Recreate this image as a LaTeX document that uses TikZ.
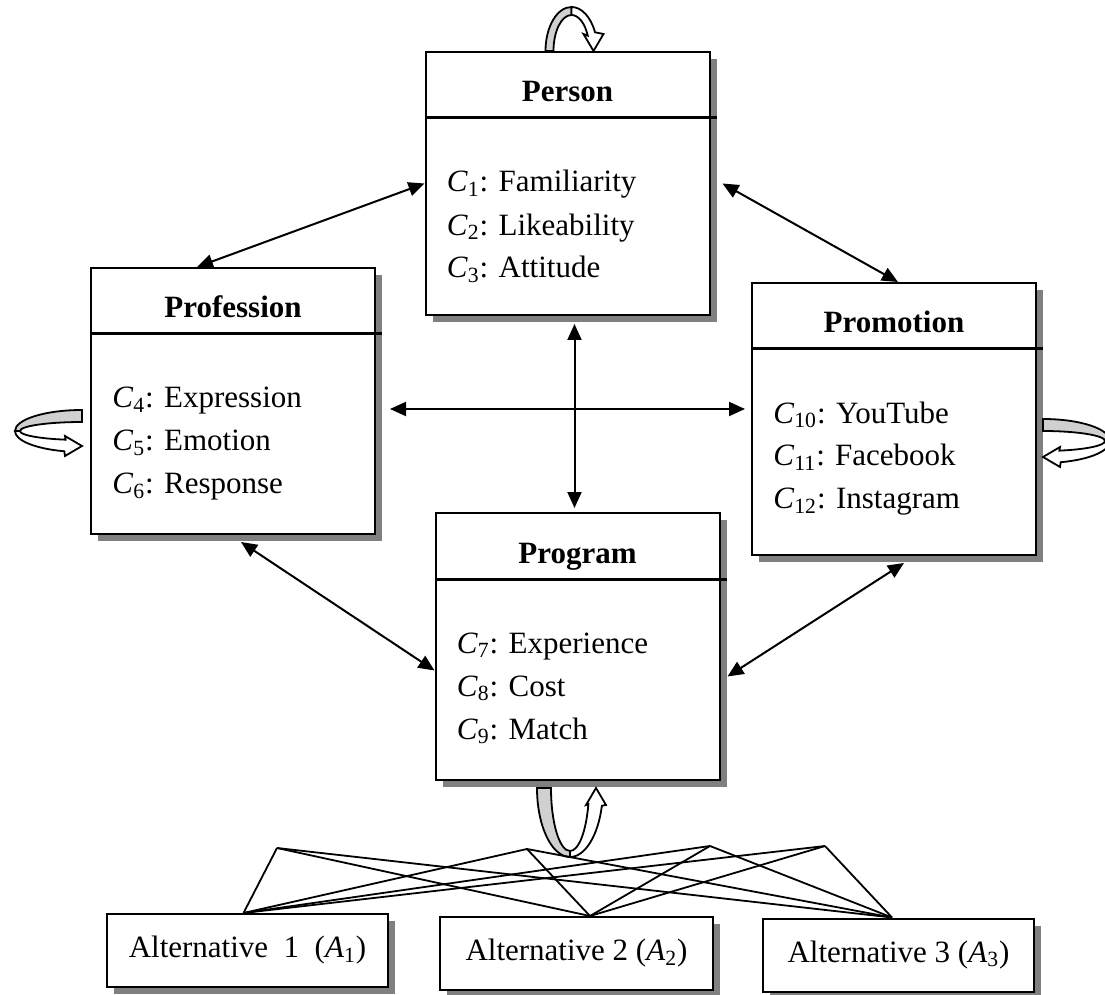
\documentclass[tikz,border=0pt]{standalone}
\usepackage{fontspec}
\setmainfont{Liberation Serif}
\usepackage{tikz}
\usetikzlibrary{arrows.meta, positioning, calc, shadows}
\definecolor{shadowgray}{RGB}{128,128,128}
\definecolor{loopgray}{RGB}{208,208,208}
\newcommand{\crit}[2]{\textit{C}\textsubscript{#1}: #2}
\tikzstyle{catbox}   = [rectangle, draw, line width=1pt, fill=white,
                        minimum width=142pt, minimum height=131.5pt,
                        drop shadow={shadow xshift=3.5pt, shadow yshift=-3.5pt, fill=shadowgray, opacity=1}]
\tikzstyle{altbox}   = [rectangle, draw, line width=1pt, fill=white, minimum height=36.5pt,
                        drop shadow={shadow xshift=3.5pt, shadow yshift=-3.5pt, fill=shadowgray, opacity=1}]
\tikzstyle{cattitle} = [font=\bfseries, anchor=base, inner sep=0pt]
\tikzstyle{catitem}  = [anchor=base west, inner sep=0pt]
\tikzstyle{sepline}  = [line width=1.5pt]
\tikzstyle{arr}      = [{Triangle[length=8pt,width=7pt]}-{Triangle[length=8pt,width=7pt]}, line width=1pt]
\tikzstyle{link}     = [line width=0.9pt]
\tikzstyle{loopback} = [fill=loopgray, draw, line width=0.9pt]
\tikzstyle{loopfront}= [fill=white, draw, line width=0.9pt]
% self loop: reach, half width, end thickness, side thickness
\tikzset{pics/selfloop/.style n args={4}{code={
    \pgfmathsetmacro\lpa{#1}\pgfmathsetmacro\lpb{#2}
    \pgfmathsetmacro\lpai{#1-#3}\pgfmathsetmacro\lpbi{#2-#4}
    \pgfmathsetmacro\lpbm{#2-#4/2}
    \pgfmathsetmacro\lpang{acos(17/(#1-#3/2))}
    \pgfmathsetmacro\lpix{\lpai*cos(\lpang)}\pgfmathsetmacro\lpiy{-\lpbi*sin(\lpang)}
    \pgfmathsetmacro\lpbl{-\lpbm-10}\pgfmathsetmacro\lpbr{-\lpbm+10}
    \pgfmathsetmacro\lptip{-\lpbm}
    \filldraw[loopback] (0,\lpb) arc[start angle=90, end angle=0, x radius=\lpa, y radius=\lpb]
        -- (\lpai,0) arc[start angle=0, end angle=90, x radius=\lpai, y radius=\lpbi] -- cycle;
    \filldraw[loopfront] (\lpa,0) arc[start angle=0, end angle=-\lpang, x radius=\lpa, y radius=\lpb]
        -- (17,\lpbl) -- (0,\lptip) -- (17,\lpbr) -- (\lpix,\lpiy)
        arc[start angle=-\lpang, end angle=0, x radius=\lpai, y radius=\lpbi] -- cycle;
}}}

\begin{document}
\fontsize{15.5pt}{18pt}\selectfont
\begin{tikzpicture}[x=0.5pt, y=0.5pt]
    \useasboundingbox (0,0) rectangle (1105,-995);

    % criteria boxes
    \node[catbox] (person) at (567.5,-183.5) {};
    \node[cattitle] (person-title) at ($(person.north)+(0,-51)$) {Person};
    \draw[sepline] ($(person.north west)+(2,-67)$) -- ($(person.north east)+(6,-67)$);
    \foreach \k/\lbl [count=\n from 0] in {1/Familiarity, 2/Likeability, 3/Attitude}
        \node[catitem] (person-c\k) at ($(person.north west)+(22,-141-43*\n)$) {\crit{\k}{\lbl}};

    \node[catbox, minimum height=133pt] (profession) at (233,-401) {};
    \node[cattitle] (profession-title) at ($(profession.north)+(0,-51)$) {Profession};
    \draw[sepline] ($(profession.north west)+(2,-67)$) -- ($(profession.north east)+(6,-67)$);
    \foreach \k/\lbl [count=\n from 0] in {4/Expression, 5/Emotion, 6/Response}
        \node[catitem] (profession-c\k) at ($(profession.north west)+(22,-141-43*\n)$) {\crit{\k}{\lbl}};

    \node[catbox, minimum height=136pt] (promotion) at (894,-419) {};
    \node[cattitle] (promotion-title) at ($(promotion.north)+(0,-51)$) {Promotion};
    \draw[sepline] ($(promotion.north west)+(2,-67)$) -- ($(promotion.north east)+(6,-67)$);
    \foreach \k/\lbl [count=\n from 0] in {10/YouTube, 11/Facebook, 12/Instagram}
        \node[catitem] (promotion-c\k) at ($(promotion.north west)+(22,-141-43*\n)$) {\crit{\k}{\lbl}};

    \node[catbox, minimum height=133.5pt] (program) at (577.5,-646.5) {};
    \node[cattitle] (program-title) at ($(program.north)+(0,-51)$) {Program};
    \draw[sepline] ($(program.north west)+(2,-67)$) -- ($(program.north east)+(6,-67)$);
    \foreach \k/\lbl [count=\n from 0] in {7/Experience, 8/Cost, 9/Match}
        \node[catitem] (program-c\k) at ($(program.north west)+(22,-141-43*\n)$) {\crit{\k}{\lbl}};

    % links between criteria
    \coordinate (hmid) at ($(promotion.west)+(0,10)$);
    \draw[arr] (person.west) -- ([xshift=-18pt]profession.north);
    \draw[arr] ([xshift=6pt]person.east) -- ([xshift=2pt]promotion.north);
    \draw[arr, shorten <=4pt, shorten >=2pt] ([xshift=-1.5pt]program.north |- person.south) -- ([xshift=-1.5pt]program.north);
    \draw[arr, shorten <=7pt, shorten >=3pt] (profession.east |- hmid) -- (hmid);
    \draw[arr] ([xshift=4pt,yshift=-3.5pt]profession.south) -- ([yshift=-12pt]program.west);
    \draw[arr] ([xshift=5pt,yshift=-3.5pt]promotion.south) -- ([xshift=3.5pt,yshift=-15pt]program.east);

    % inner dependence loops
    \pic[rotate=90] at ([xshift=2pt]person.north) {selfloop={44}{26}{8}{8}};
    \pic[xscale=-1] at ([xshift=-4pt,yshift=-15pt]profession.west) {selfloop={67}{21}{5}{12}};
    \pic at ([xshift=3pt,yshift=-11pt]promotion.east) {selfloop={67}{22}{5}{12}};
    \pic[rotate=-90, yscale=-1] at ([xshift=-3.75pt,yshift=-3.5pt]program.south) {selfloop={69}{33}{6}{14}};

    % alternatives
    \node[altbox, minimum width=140.5pt] (alt1) at (247.5,-950.5) {Alternative\ \ 1\ \ (\textit{A}\textsubscript{1})};
    \node[altbox, minimum width=136.5pt] (alt2) at (576.5,-953.5) {Alternative 2 (\textit{A}\textsubscript{2})};
    \node[altbox, minimum width=135.5pt] (alt3) at (898.5,-955) {Alternative 3 (\textit{A}\textsubscript{3})};

    \coordinate (top1) at (277,-848);
    \coordinate (top2) at (527,-849);
    \coordinate (top3) at (710,-846);
    \coordinate (top4) at (825,-846);
    \foreach \i in {1,...,4}
        \foreach \j/\dx in {1/-2pt, 2/6.75pt, 3/-3.25pt}
            \draw[link] (top\i) -- ([xshift=\dx]alt\j.north);
\end{tikzpicture}
\end{document}
